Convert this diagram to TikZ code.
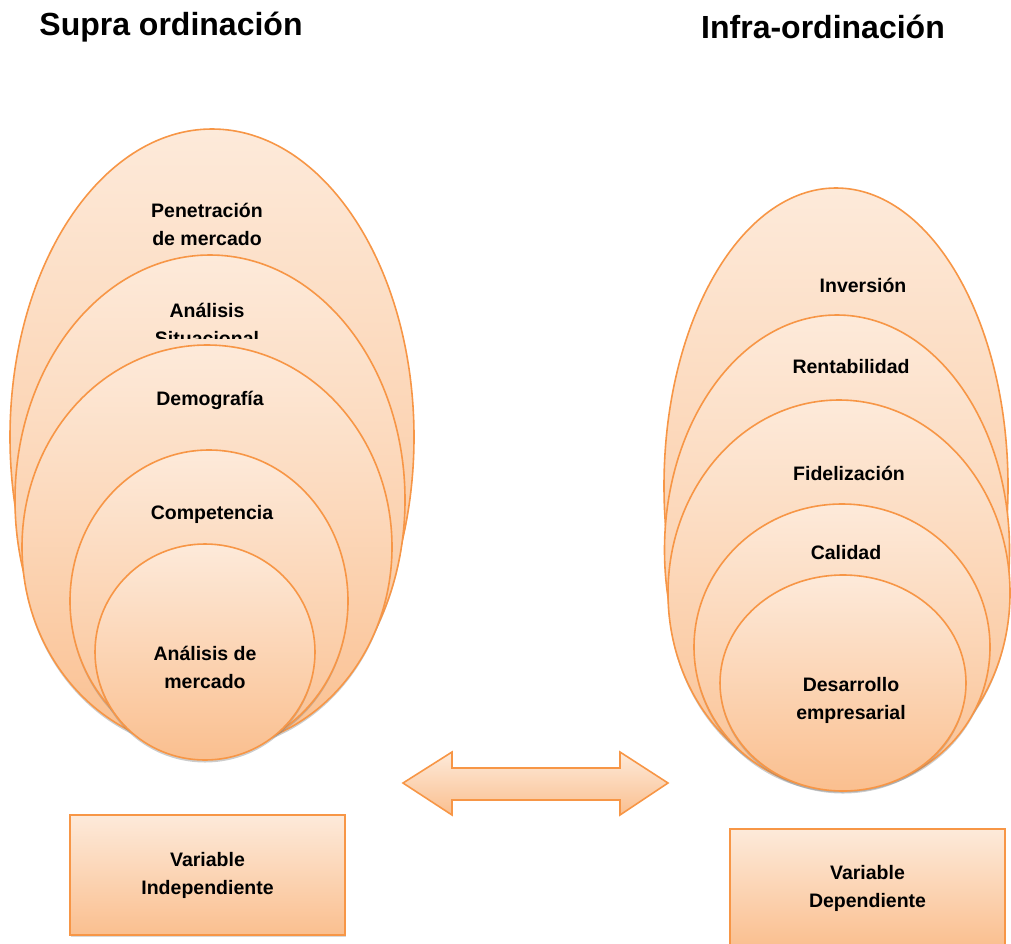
\documentclass[tikz,border=0pt]{standalone}
\usepackage{fontspec}
\setmainfont{Liberation Sans}
\usetikzlibrary{shapes.geometric,shadows}
\definecolor{edge}{HTML}{F79646}
\definecolor{ltop}{HTML}{FDEADA}
\definecolor{lbot}{HTML}{FABF8F}
\tikzset{
  egg/.style={ellipse, draw=edge, line width=1.6pt, top color=ltop, bottom color=lbot,
    inner sep=0pt, drop shadow={opacity=0.4, shadow xshift=0pt, shadow yshift=-2.5pt}},
  lbl/.style={font=\bfseries\fontsize{19.5}{28}\selectfont, align=center, text=black, inner sep=0pt},
  ttl/.style={font=\bfseries\fontsize{32}{36}\selectfont, text=black, inner sep=0pt},
  varbox/.style={rectangle, draw=edge, line width=1.6pt, top color=ltop, bottom color=lbot,
    minimum width=275pt, inner sep=0pt, font=\bfseries\fontsize{19.5}{28}\selectfont, align=center,
    drop shadow={opacity=0.3, shadow xshift=1pt, shadow yshift=-2pt}},
  arrowshape/.style={draw=edge, line width=1.6pt, top color=ltop, bottom color=lbot, line join=miter}
}
\begin{document}
\begin{tikzpicture}[x=1pt,y=-1pt]
\useasboundingbox (0,0) rectangle (1011,943);
% titles
\node[ttl] (t1) at (171,27) {Supra ordinación};
\node[ttl] (t2) at (823,27) {Infra-ordinación};

% left stack
\node[egg, minimum width=404pt, minimum height=616pt] (L1) at (212,437) {};
\node[lbl] (l1) at (207,224) {Penetración\\de mercado};
\node[egg, minimum width=390pt, minimum height=490pt] (L2) at (210,500) {};
\begin{scope}
  \clip (0,0) rectangle (1011,338);
  \node[lbl] (l2) at (207,324) {Análisis\\Situacional};
\end{scope}
\node[egg, minimum width=370pt, minimum height=404pt] (L3) at (207,547) {};
\node[lbl] (l3) at (210,400) {Demografía};
\node[egg, minimum width=278pt, minimum height=302pt] (L4) at (209,601) {};
\node[lbl] (l4) at (212,514) {Competencia};
\node[egg, minimum width=220pt, minimum height=216pt] (L5) at (205,652) {};
\node[lbl] (l5) at (205,667) {Análisis de\\mercado};

% right stack
\node[egg, minimum width=344pt, minimum height=596pt] (R1) at (836,486) {};
\node[lbl] (r1) at (863,285) {Inversión};
\node[egg, minimum width=345pt, minimum height=470pt] (R2) at (837,550) {};
\node[lbl] (r2) at (851,367) {Rentabilidad};
\node[egg, minimum width=342pt, minimum height=386pt] (R3) at (839,593) {};
\node[lbl] (r3) at (849,473) {Fidelización};
\node[egg, minimum width=296pt, minimum height=286pt] (R4) at (842,647) {};
\node[lbl] (r4) at (846,553) {Calidad};
\node[egg, minimum width=246pt, minimum height=216pt] (R5) at (843,683) {};
\node[lbl] (r5) at (851,700) {Desarrollo\\empresarial};

% double arrow
\draw[arrowshape] (403,783) -- (452,752) -- (452,768) -- (620,768) -- (620,752) -- (668,783)
  -- (620,815) -- (620,800) -- (452,800) -- (452,815) -- cycle;

% boxes
\node[varbox, minimum height=120pt] (B1) at (207.5,875) {Variable\\Independiente};
\node[varbox, minimum height=118pt] (B2) at (867.5,888) {Variable\\Dependiente};
\end{tikzpicture}
\end{document}
